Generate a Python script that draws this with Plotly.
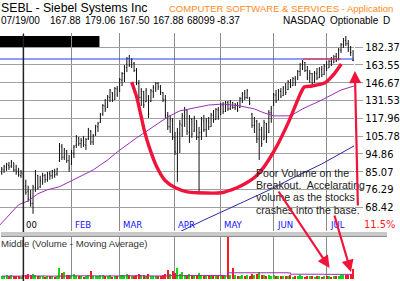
import math
import plotly.graph_objects as go

W, H = 400, 281

# ---------------- data ----------------
day_index = list(range(1, 148))          # trading-day index, Dec-1999 .. 07/19/00
month_ticks = [10, 30, 50, 73, 92, 114, 136]
month_labels = ["00", "FEB", "MAR", "APR", "MAY", "JUN", "JUL"]

highs = [87.6, 88.7, 89.8, 90.3, 91.4, 89.8, 88.7, 87.1, 86.0, 85.0,
         81.0, 78.1, 76.2, 78.5, 86.0, 83.5, 83.0, 84.5, 84.0, 85.0,
         85.5, 86.0, 86.6, 87.1, 101.4, 100.8, 98.4, 97.2, 94.2, 97.2,
         100.2, 106.5, 105.2, 104.6, 105.9, 104.6, 111.2, 109.8, 107.2, 113.3,
         115.4, 121.9, 128.7, 132.7, 136.0, 141.1, 138.5, 142.8, 143.7, 150.9,
         156.5, 163.4, 171.6, 173.7, 170.5, 166.4, 160.4, 149.0, 141.9, 139.4,
         141.9, 136.0, 141.1, 144.5, 147.2, 147.2, 144.5, 138.5, 136.0, 122.6,
         120.4, 118.2, 108.5, 111.2, 116.8, 121.9, 126.4, 124.1, 120.4, 118.2,
         119.7, 116.8, 111.9, 118.9, 120.4, 118.2, 118.9, 121.9, 124.1, 125.6,
         126.4, 129.5, 130.3, 131.1, 131.1, 131.9, 130.3, 129.5, 130.3, 134.4,
         138.5, 140.2, 141.1, 134.4, 121.9, 118.9, 116.8, 114.7, 111.9, 116.8,
         114.7, 124.1, 127.2, 137.7, 140.2, 141.1, 141.9, 143.7, 146.3, 149.0,
         150.0, 151.8, 152.8, 158.4, 165.4, 168.4, 166.4, 162.4, 158.4, 155.6,
         157.5, 160.4, 161.4, 162.4, 164.4, 167.4, 168.4, 171.6, 173.7, 175.8,
         181.3, 186.9, 192.7, 195.1, 190.3, 183.5, 179.06]
lows = [83.5, 84.5, 85.5, 86.0, 87.1, 85.0, 83.5, 82.5, 82.0, 76.2,
        73.9, 70.8, 68.7, 65.8, 75.2, 76.2, 77.1, 78.5, 79.5, 80.0,
        81.0, 81.5, 82.0, 83.0, 90.3, 91.4, 91.4, 89.8, 85.0, 88.7,
        92.5, 98.4, 99.6, 98.4, 99.0, 97.2, 103.3, 100.2, 100.2, 105.9,
        108.5, 114.7, 119.7, 122.6, 125.6, 130.3, 130.3, 131.9, 134.4, 138.5,
        143.7, 147.2, 156.5, 161.4, 160.4, 156.5, 144.5, 131.9, 127.2, 125.6,
        130.3, 118.2, 130.3, 133.5, 138.5, 140.2, 136.0, 130.3, 118.2, 109.8,
        107.8, 103.3, 94.2, 80.0, 95.4, 105.2, 111.9, 106.5, 101.4, 104.6,
        108.5, 103.3, 75.2, 103.3, 108.5, 105.2, 109.8, 111.9, 114.7, 116.8,
        116.8, 120.4, 121.1, 122.6, 123.4, 124.1, 124.9, 124.1, 122.6, 125.6,
        129.5, 131.9, 132.7, 127.9, 111.2, 107.8, 101.4, 91.4, 99.0, 103.3,
        101.4, 107.8, 114.7, 127.2, 129.5, 131.9, 133.5, 135.2, 136.0, 140.2,
        141.9, 143.7, 143.7, 149.0, 152.8, 158.4, 156.5, 149.0, 146.3, 143.7,
        146.3, 149.0, 150.9, 151.8, 153.7, 157.5, 160.4, 162.4, 165.4, 166.4,
        168.4, 175.8, 181.3, 183.5, 176.9, 172.6, 167.50]
opens = [84.5, 86.0, 87.5, 88.5, 88.0, 90.0, 86.0, 85.5, 83.0, 84.0,
         78.0, 75.5, 72.5, 70.0, 77.0, 83.0, 77.5, 80.0, 83.0, 81.0,
         84.0, 83.0, 85.0, 84.0, 91.0, 99.0, 93.0, 96.5, 91.0, 89.0,
         95.0, 100.0, 104.5, 101.0, 102.5, 100.0, 104.0, 109.0, 102.0, 106.5,
         112.0, 115.0, 121.0, 127.0, 126.0, 134.0, 138.0, 132.5, 141.0, 139.0,
         149.0, 155.0, 161.0, 170.0, 163.0, 165.0, 158.0, 146.0, 134.0, 139.0,
         130.5, 135.0, 131.0, 139.0, 142.0, 146.0, 143.0, 138.0, 132.0, 120.0,
         112.0, 116.0, 105.0, 95.0, 107.0, 113.0, 119.0, 124.0, 108.0, 117.0,
         109.0, 116.0, 105.0, 108.0, 116.0, 110.0, 116.0, 112.0, 120.0, 117.0,
         124.0, 120.5, 128.0, 123.0, 130.0, 125.0, 130.0, 126.0, 128.0, 126.0,
         133.0, 137.0, 134.0, 133.5, 121.0, 113.0, 116.0, 104.0, 110.0, 103.5,
         114.0, 108.0, 122.0, 128.0, 136.0, 132.0, 139.0, 135.5, 142.0, 140.5,
         147.0, 144.0, 150.0, 150.0, 157.0, 164.0, 166.0, 158.0, 151.0, 155.0,
         146.5, 155.0, 151.0, 159.0, 154.0, 162.0, 160.5, 167.0, 165.5, 172.0,
         168.5, 179.0, 185.0, 190.0, 186.0, 180.0, 167.88]
closes = [86.5, 88.0, 89.0, 87.5, 90.5, 86.0, 85.0, 83.5, 84.5, 77.5,
          75.0, 72.0, 70.0, 77.5, 84.0, 77.0, 80.5, 83.0, 81.0, 84.0,
          83.0, 85.5, 83.5, 86.5, 99.5, 93.0, 97.0, 91.0, 87.0, 95.5,
          99.0, 105.0, 101.0, 103.0, 100.5, 103.5, 110.0, 102.0, 106.0, 112.5,
          114.0, 121.0, 127.5, 125.0, 134.5, 140.0, 132.0, 141.5, 136.0, 149.5,
          155.0, 161.0, 170.0, 163.0, 169.0, 158.0, 146.0, 134.0, 139.0, 128.0,
          140.0, 121.0, 139.5, 142.5, 146.0, 143.0, 138.0, 132.0, 120.0, 112.0,
          117.0, 105.0, 96.0, 108.0, 114.0, 120.0, 124.0, 109.0, 118.0, 107.0,
          118.0, 105.0, 108.0, 117.0, 110.0, 116.0, 112.0, 120.5, 117.0, 124.5,
          119.0, 128.0, 123.0, 130.0, 125.0, 130.5, 126.0, 128.0, 124.0, 133.0,
          137.0, 134.0, 139.5, 129.0, 113.0, 116.0, 104.0, 110.0, 101.0, 115.0,
          105.0, 122.0, 125.0, 136.0, 131.0, 139.5, 135.0, 142.0, 138.0, 147.5,
          144.0, 150.5, 145.5, 157.0, 164.0, 166.5, 158.0, 151.0, 155.0, 146.0,
          155.5, 151.0, 159.5, 154.0, 162.5, 160.0, 167.0, 164.0, 172.0, 168.0,
          179.0, 185.0, 190.0, 186.0, 180.0, 176.25, 167.88]
volumes = [22000, 18000, 25000, 20000, 28000, 19000, 24000, 21000, 17000, 30000,
           26000, 33000, 29000, 38000, 27000, 22000, 19000, 24000, 16000, 21000,
           18000, 23000, 15000, 20000, 76000, 42000, 48000, 25000, 30000, 27000,
           36000, 22000, 19000, 24000, 17000, 21000, 26000, 55000, 23000, 20000,
           18000, 27000, 25000, 22000, 19000, 28000, 17000, 21000, 24000, 26000,
           30000, 27000, 33000, 29000, 20000, 24000, 31000, 35000, 27000, 25000,
           22000, 33000, 21000, 19000, 24000, 18000, 20000, 26000, 32000, 60000,
           38000, 55000, 42000, 75000, 36000, 50000, 30000, 28000, 33000, 25000,
           22000, 27000, 40000, 30000, 24000, 21000, 19000, 23000, 18000, 22000,
           20000, 25000, 19000, 21000, 300000, 28000, 75000, 30000, 24000, 22000,
           27000, 20000, 25000, 23000, 35000, 30000, 33000, 48000, 29000, 26000,
           24000, 31000, 22000, 27000, 21000, 19000, 24000, 18000, 22000, 20000,
           25000, 17000, 23000, 21000, 26000, 19000, 16000, 22000, 18000, 20000,
           15000, 19000, 23000, 17000, 21000, 18000, 24000, 16000, 20000, 22000,
           19000, 25000, 27000, 30000, 26000, 33000, 68099]

vol_ma_idx = [1, 10, 20, 30, 40, 50, 60, 70, 80, 94, 95, 120, 121, 135, 147]
vol_ma_val = [20000, 21000, 20000, 22000, 21000, 22000, 21000, 23000, 24000, 21000,
              43000, 42000, 33000, 32000, 34000]

ma_purple_idx = [0, 4, 8, 12, 16, 20, 25, 30, 35, 39, 45, 49, 57, 65, 70, 75, 81, 87,
                 93, 100, 106, 110, 114, 121, 126, 134, 142, 147.4]
ma_purple_val = [61.2, 65.3, 69.5, 71.2, 74.3, 76.2, 77.6, 80.5, 83.5, 86.0, 91.4, 96.0,
                 104.6, 113.3, 118.9, 123.4, 125.6, 127.9, 128.7, 127.2, 124.9, 121.9,
                 119.7, 119.7, 124.9, 131.9, 140.2, 143.7]
ma_blue_idx = [74, 85, 102, 112, 122, 134, 147.4]
ma_blue_val = [58.5, 63.3, 71.0, 76.0, 81.9, 89.2, 99.6]

resistance_level = 169.5
handle_idx = [126, 142]

cup_idx = [55.0, 57.2, 58.8, 60.4, 62.4, 65.3, 69.0, 73.2, 78.1, 82.5, 92.3, 98.7,
           102.8, 106.4, 109.7, 114.9, 120.6, 124.7, 126.7, 129.9, 135.2, 138.8, 142.1]
cup_price = [147.2, 133.5, 120.4, 108.5, 98.4, 88.0, 80.5, 77.1, 75.2, 74.8, 74.8, 77.1,
             79.5, 82.5, 87.1, 98.4, 116.8, 135.2, 142.8, 143.7, 146.3, 153.7, 164.4]

price_ticks = [182.37, 163.55, 146.67, 131.53, 117.96, 105.78, 94.86, 85.07, 76.29, 68.42]
price_labels = ["182.37", "163.55", "146.67", "131.53", "117.96", "105.78", "94.86",
                "85.07", "76.29", "68.42"]

# ---------------- helpers ----------------
def px(x):
    return x / W


def py(y):
    return 1 - y / H


NARROW = "Liberation Sans Narrow, Arial Narrow, DejaVu Sans Condensed, sans-serif"
SANS = "Liberation Sans, Arial, sans-serif"
RED = "#f0143c"

vol_colors = ["#00e000"]
for k in range(1, len(closes)):
    vol_colors.append("#00e000" if closes[k] >= closes[k - 1] else "#ff1a1a")

fig = go.Figure()

fig.add_trace(go.Scatter(x=ma_purple_idx, y=ma_purple_val, mode="lines",
                         line=dict(color="#9b2fb5", width=1), hoverinfo="skip"))
fig.add_trace(go.Scatter(x=ma_blue_idx, y=ma_blue_val, mode="lines",
                         line=dict(color="#2a2aa8", width=1), hoverinfo="skip"))
fig.add_trace(go.Scatter(x=[0, 148], y=[resistance_level, resistance_level], mode="lines",
                         line=dict(color="#1e3cff", width=1.2), hoverinfo="skip"))
fig.add_trace(go.Scatter(x=handle_idx, y=[resistance_level, resistance_level], mode="lines",
                         line=dict(color="#ff2020", width=1.2), hoverinfo="skip"))

fig.add_trace(go.Ohlc(x=day_index, open=opens, high=highs, low=lows, close=closes,
                      increasing=dict(line=dict(color="#111111", width=1)),
                      decreasing=dict(line=dict(color="#111111", width=1)),
                      tickwidth=0.3, hoverinfo="skip", xaxis="x", yaxis="y"))

fig.add_trace(go.Scatter(x=cup_idx, y=cup_price, mode="lines",
                         line=dict(color=RED, width=3.4, shape="spline", smoothing=0.6),
                         hoverinfo="skip"))

fig.add_trace(go.Bar(x=day_index, y=volumes, marker=dict(color=vol_colors, line=dict(width=0)),
                     width=0.45, xaxis="x2", yaxis="y2", hoverinfo="skip"))
fig.add_trace(go.Scatter(x=vol_ma_idx, y=vol_ma_val, mode="lines",
                         line=dict(color="#9b2fb5", width=1, shape="hv"),
                         xaxis="x2", yaxis="y2", hoverinfo="skip"))

xr = [0.28, 147.36]
ann = []

# header
ann.append(dict(text="SEBL - Siebel Systems Inc", x=px(0), y=py(8),
                font=dict(family=SANS, size=12.3, color="#000")))
ann.append(dict(text="COMPUTER SOFTWARE &amp; SERVICES - Application", x=px(172), y=py(8),
                font=dict(family=SANS, size=9.5, color="#ff8a1c")))
for txt, xx in [("07/19/00", 0), ("167.88", 50), ("179.06", 86), ("167.50", 121),
                ("167.88", 156), ("68099", 191), ("-8.37", 222), ("NASDAQ", 289),
                ("Optionable", 337), ("D", 392)]:
    ann.append(dict(text=txt, x=px(xx), y=py(21), font=dict(family=SANS, size=10, color="#000")))

# month labels
for t, lab in zip(month_ticks, month_labels):
    ann.append(dict(text=lab, x=t, xref="x", y=py(224), xshift=2,
                    font=dict(family=NARROW, size=9.5, color="#000" if lab == "00" else "#1010ff")))

ann.append(dict(text="11.5%", x=px(372), y=py(224),
                font=dict(family=NARROW, size=11, color="#ff2020")))
ann.append(dict(text="Middle (Volume - Moving Average)", x=px(0), y=py(243),
                font=dict(family=SANS, size=9.6, color="#333")))

for txt, yy in [("Poor Volume on the", 173), ("Breakout.  Accelarating", 185),
                ("volume as the stocks", 197), ("crashes into the base.", 210)]:
    ann.append(dict(text=txt, x=px(262), y=py(yy), font=dict(family=SANS, size=10.6, color="#222")))

for a in ann:
    a.setdefault("xref", "paper")
    a["yref"] = "paper"
    a["xanchor"] = "left"
    a["yanchor"] = "middle"
    a["showarrow"] = False
    a["borderpad"] = 0

# red arrows
for (tx, ty, axp, ayp) in [(364, 71, 3, 136), (338, 268, -52, -78), (360, 272, -17, -58)]:
    ann.append(dict(x=px(tx), y=py(ty), xref="paper", yref="paper", ax=axp, ay=ayp,
                    axref="pixel", ayref="pixel", text="", showarrow=True,
                    arrowhead=2, arrowsize=1.1, arrowwidth=2.2, arrowcolor=RED))

shapes = [
    dict(type="rect", xref="paper", yref="paper", x0=px(0), x1=px(102), y0=py(47), y1=py(36),
         fillcolor="#000", line=dict(width=0), layer="below"),
    dict(type="line", xref="x", yref="paper", x0=10, x1=10, y0=0, y1=py(34),
         line=dict(color="#222", width=1.5)),
    dict(type="rect", xref="paper", yref="paper", x0=px(1), x1=px(397), y0=py(236), y1=py(232),
         fillcolor="#c9c9c9", line=dict(width=0)),
    dict(type="line", xref="paper", yref="paper", x0=px(1), x1=px(397), y0=py(236.5), y1=py(236.5),
         line=dict(color="#8a8a8a", width=1)),
]

fig.update_layout(
    width=W, height=H, margin=dict(l=0, r=0, t=0, b=0),
    paper_bgcolor="white", plot_bgcolor="white", showlegend=False,
    xaxis=dict(domain=[0, px(363)], range=xr, tickvals=month_ticks, showticklabels=False,
               showgrid=True, gridcolor="#8c8c8c", gridwidth=1, zeroline=False,
               rangeslider=dict(visible=False), anchor="y", ticks=""),
    yaxis=dict(type="log", domain=[py(231), py(33)],
               range=[math.log10(59.2), math.log10(198.7)], side="right",
               tickvals=price_ticks, ticktext=price_labels, showgrid=True,
               gridcolor="#a0a0a0", gridwidth=1, ticks="outside", ticklen=8,
               tickcolor="#a0a0a0", tickfont=dict(family=NARROW, size=11, color="#000"),
               zeroline=False, anchor="x"),
    xaxis2=dict(domain=[0, px(363)], range=xr, matches="x", anchor="y2", tickvals=month_ticks,
                showticklabels=False, showgrid=True, gridcolor="#8c8c8c", zeroline=False,
                rangeslider=dict(visible=False), ticks=""),
    yaxis2=dict(domain=[py(279), py(237)], range=[0, 290000], showgrid=False,
                showticklabels=False, zeroline=False, anchor="x2"),
    annotations=ann, shapes=shapes, bargap=0,
)

fig.write_html("out.html")
